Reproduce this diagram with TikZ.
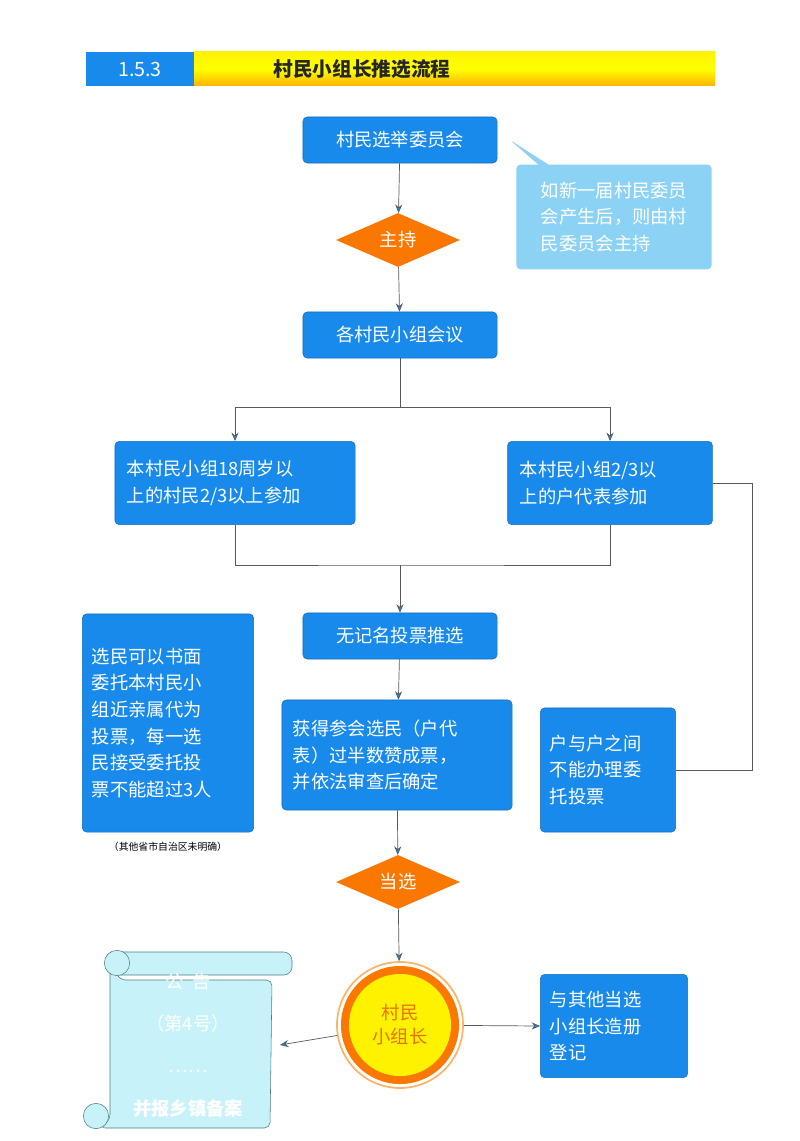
\documentclass[tikz,border=0pt]{standalone}
\usepackage{fontspec}
\setmainfont{Noto Sans CJK SC}
\usetikzlibrary{shapes.geometric,shapes.callouts,arrows.meta}
\definecolor{boxblue}{RGB}{24,138,236}
\definecolor{lightblue}{RGB}{140,210,245}
\definecolor{scroll}{RGB}{200,242,250}
\definecolor{dia}{RGB}{250,120,0}
\tikzset{
  box/.style={draw=boxblue!80!black, fill=boxblue, rounded corners=3pt, text=white, font=\fontsize{13}{19}\selectfont, align=left, inner sep=0pt},
  stage/.style={box, minimum width=4.85cm, minimum height=1.15cm, align=center},
  dec/.style={diamond, fill=dia, text=white, aspect=2.3, minimum width=3.1cm, minimum height=1.35cm, inner sep=0pt, font=\fontsize{13}{15}\selectfont},
  flow/.style={draw=gray!70!black, line width=0.5pt},
  arr/.style={flow, -{Stealth[length=6pt,width=5pt,fill=boxblue]}},
}
\begin{document}
\begin{tikzpicture}[x=0.025cm,y=-0.025cm]
\useasboundingbox (0,0) rectangle (800,1141);
\fill[white] (0,0) rectangle (800,1141);

% title bar
\shade[top color=yellow!90!orange, bottom color=orange!60!yellow, middle color=yellow] (194,52) rectangle (715,86);
\node[fill=boxblue, minimum width=2.7cm, minimum height=0.85cm, inner sep=0pt, text=white, font=\fontsize{14}{16}\selectfont] (num) at (140,69) {1.5.3};
\node[font=\fontsize{14}{16}\selectfont\bfseries, text=black!85] (title) at (362,69) {村民小组长推选流程};

% main flow
\node[stage] (comm) at (400,140) {村民选举委员会};
\node[dec] (host) at (398,240) {主持};
\node[stage] (meet) at (400,335) {各村民小组会议};
\node[box, minimum width=6cm, minimum height=2.08cm, text width=5.4cm] (left) at (235,483) {本村民小组18周岁以\\上的村民2/3以上参加};
\node[box, minimum width=5.12cm, minimum height=2.08cm, text width=4.5cm] (right) at (610,483) {本村民小组2/3以\\上的户代表参加};
\node[stage] (vote) at (400,636) {无记名投票推选};
\node[box, minimum width=5.75cm, minimum height=2.75cm, text width=5.2cm] (pass) at (397,755) {获得参会选民（户代\\表）过半数赞成票，\\并依法审查后确定};
\node[dec] (elect) at (398,882) {当选};
\node[circle, draw=orange!60, line width=1.2pt, fill=white, minimum size=3.15cm, inner sep=0pt] (ring) at (400,1025) {};
\node[circle, fill=dia, minimum size=2.95cm, inner sep=0pt] at (ring) {};
\node[circle, fill=yellow, minimum size=2.55cm, inner sep=0pt, text=orange!90!black, align=center, font=\fontsize{13}{17}\selectfont] (head) at (ring) {村民\\小组长};

% side notes
\node[rectangle callout, fill=lightblue, rounded corners=3pt, minimum width=4.88cm, minimum height=2.62cm, text=white, align=left, font=\fontsize{13}{19}\selectfont, callout absolute pointer={(510,140)}] (note) at (614,217) {如新一届村民委员\\会产生后，则由村\\民委员会主持};
\node[box, minimum width=4.28cm, minimum height=5.45cm, text width=3.8cm] (proxy) at (168,723) {选民可以书面\\委托本村民小\\组近亲属代为\\投票，每一选\\民接受委托投\\票不能超过3人};
\node[font=\fontsize{7}{9}\selectfont] (other) at (168,847) {（其他省市自治区未明确）};
\node[box, minimum width=3.38cm, minimum height=3.1cm, text width=2.9cm] (house) at (608,770) {户与户之间\\不能办理委\\托投票};
\node[box, minimum width=3.68cm, minimum height=2.58cm, text width=3.2cm] (reg) at (614,1026) {与其他当选\\小组长造册\\登记};

% scroll
\draw[draw=gray!60!teal, fill=scroll, rounded corners=4pt] (110,960) -- (110,1120) -- (100,1128) -- (270,1128) -- (272,980) -- (120,980) -- cycle;
\draw[draw=gray!60!teal, fill=scroll, rounded corners=6pt] (112,952) rectangle (292,975);
\draw[draw=gray!60!teal, fill=scroll] (117,963) circle (9pt);
\draw[draw=gray!60!teal, fill=scroll] (96,1116) circle (9pt);
\node[text=white, align=center, font=\fontsize{13}{30}\selectfont] (notice) at (188,1045) {公\ \ 告\\（第4号）\\……\\\bfseries 并报乡镇备案};
\coordinate (scrollend) at (280,1045);

% connectors
\draw[arr] (comm) -- (host);
\draw[arr] (host) -- (meet);
\coordinate (s0) at (400,407);
\draw[flow] (meet) -- (s0);
\draw[arr] (s0) -| (left.north);
\draw[arr] (s0) -| (right.north);
\coordinate (m0) at (400,565);
\draw[flow] (left.south) |- (m0) -| (right.south);
\draw[arr] (m0) -- (vote);
\draw[arr] (vote) -- (pass);
\draw[arr] (pass) -- (elect);
\draw[arr] (elect) -- (ring);
\coordinate (r0) at (752,483);
\draw[flow] (right.east) -- (r0) |- (house.east);
\draw[arr] (ring) -- (scrollend);
\draw[arr] (ring) -- (reg.west);
\end{tikzpicture}
\end{document}
